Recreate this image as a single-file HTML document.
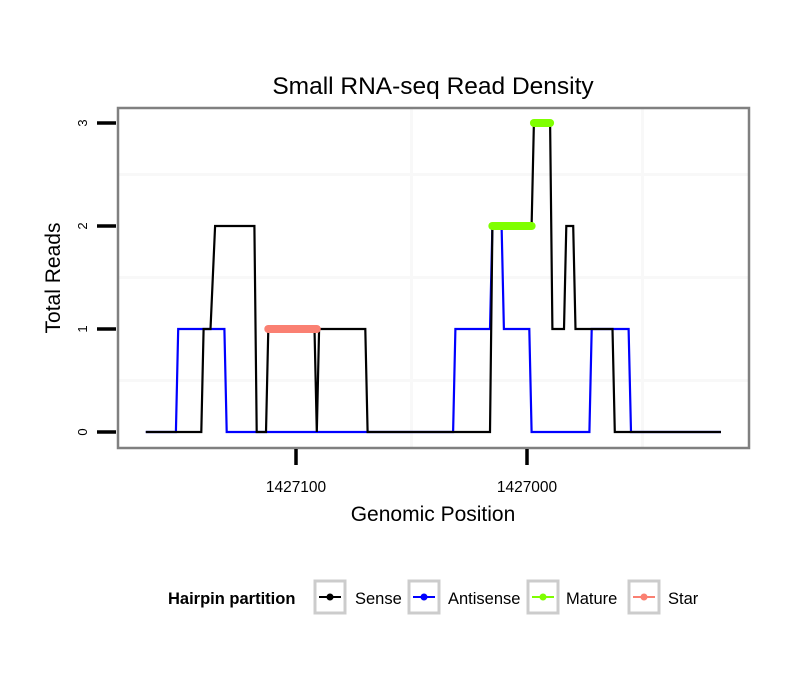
<!DOCTYPE html>
<html><head><meta charset="utf-8"><style>
body{margin:0;background:#fff;font-family:"Liberation Sans",sans-serif}
svg text{font-family:"Liberation Sans",sans-serif}
</style></head><body>
<svg width="810" height="690" viewBox="0 0 810 690">
<g id="plot"></g>
</svg>
<script>
const sensePos=[1427165,1427141,1427140,1427137,1427135,1427118,1427117,1427113,1427112,1427092,1427091,1427090,1427070,1427069,1427016,1427015,1426998,1426997,1426990,1426989,1426984,1426983,1426980,1426979,1426963,1426962,1426916];
const senseVal=[0,0,1,1,2,2,0,0,1,1,0,1,1,0,0,2,2,3,3,1,1,2,2,1,1,0,0];
const antiPos=[1427165,1427152,1427151,1427131,1427130,1427032,1427031,1427016,1427015,1427011,1427010,1426999,1426998,1426973,1426972,1426956,1426955,1426916];
const antiVal=[0,0,1,1,0,0,1,1,2,2,1,1,0,0,1,1,0,0];
const matureStart=[1427015,1426997];
const matureEnd=[1426998,1426990];
const matureVal=[2,3];
const starStart=[1427112];
const starEnd=[1427091];
const starVal=[1];
const xTicks=[1427100,1427000];
const xTickLabels=["1427100","1427000"];
const yTicks=[0,1,2,3];
const yTickLabels=["0","1","2","3"];
const xMinor=[1427050,1426950];
const yMinor=[0.5,1.5,2.5];

const NS="http://www.w3.org/2000/svg";
const g=document.getElementById('plot');
const X=p=>296+(1427100-p)*2.31;
const Y=v=>432-v*103;
function mk(t,a,parent){const e=document.createElementNS(NS,t);for(const k in a)e.setAttribute(k,a[k]);(parent||g).appendChild(e);return e;}

let el=mk('rect',{x:118,y:108,width:631,height:340,fill:'#fff'});


xMinor.forEach(p=>{const l=mk('line',{x1:X(p),x2:X(p),y1:109,y2:447,stroke:'#f8f8f8','stroke-width':3});

});
yMinor.forEach(v=>{const l=mk('line',{x1:119,x2:748,y1:Y(v),y2:Y(v),stroke:'#f8f8f8','stroke-width':3});

});

function series(pos,val,color,name){
 const d=pos.map((p,i)=>(i?'L':'M')+X(p).toFixed(1)+','+Y(val[i]).toFixed(1)).join('');
 const e=mk('path',{d:d,fill:'none',stroke:color,'stroke-width':2.2,'stroke-linejoin':'miter'});
 
 
}
series(antiPos,antiVal,'#0000ff','antisense-line');
series(sensePos,senseVal,'#000','sense-line');
function segs(s,e,v,color,name){
 s.forEach((p,i)=>{const l=mk('line',{x1:X(p),x2:X(e[i]),y1:Y(v[i]),y2:Y(v[i]),stroke:color,'stroke-width':8,'stroke-linecap':'round'});
 
 });
}
segs(matureStart,matureEnd,matureVal,'#7fff00','mature-segment');
segs(starStart,starEnd,starVal,'#fa8072','star-segment');

el=mk('rect',{x:118,y:108,width:631,height:340,fill:'none',stroke:'#808080','stroke-width':2.5});



yTicks.forEach((v,i)=>{
 const l=mk('line',{x1:97,x2:116,y1:Y(v),y2:Y(v),stroke:'#000','stroke-width':3.5});
 
 
 const t=mk('text',{x:0,y:0,'font-size':13,'text-anchor':'middle',transform:`translate(87,${Y(v)}) rotate(-90)`});
 t.textContent=yTickLabels[i];
 
 
});
xTicks.forEach((p,i)=>{
 const l=mk('line',{x1:X(p),x2:X(p),y1:449,y2:465,stroke:'#000','stroke-width':3.5});
 
 
 const t=mk('text',{x:X(p),y:492,'font-size':15.5,'text-anchor':'middle'});
 t.textContent=xTickLabels[i];
 
 
});
</script>
<svg width="810" height="690" style="position:absolute;left:0;top:0">
<text x="433" y="94" font-size="24.5" text-anchor="middle">Small RNA-seq Read Density</text>
<text x="433" y="521" font-size="21" text-anchor="middle">Genomic Position</text>
<text transform="translate(60,278) rotate(-90)" font-size="21" text-anchor="middle">Total Reads</text>
<g font-size="16.5">
<text x="168" y="604" font-weight="bold">Hairpin partition</text>
<g>
<rect x="315" y="581" width="30" height="32" fill="#fff" stroke="#ccc" stroke-width="3"/>
<line x1="319" x2="341" y1="597" y2="597" stroke="#000" stroke-width="2"/><circle cx="330" cy="597" r="3.5" fill="#000"/>
<text x="355" y="604">Sense</text></g>
<g>
<rect x="409" y="581" width="30" height="32" fill="#fff" stroke="#ccc" stroke-width="3"/>
<line x1="413" x2="435" y1="597" y2="597" stroke="#00f" stroke-width="2"/><circle cx="424" cy="597" r="3.5" fill="#00f"/>
<text x="448" y="604">Antisense</text></g>
<g>
<rect x="528" y="581" width="30" height="32" fill="#fff" stroke="#ccc" stroke-width="3"/>
<line x1="532" x2="554" y1="597" y2="597" stroke="#7fff00" stroke-width="2"/><circle cx="543" cy="597" r="3.5" fill="#7fff00"/>
<text x="566" y="604">Mature</text></g>
<g>
<rect x="629" y="581" width="30" height="32" fill="#fff" stroke="#ccc" stroke-width="3"/>
<line x1="633" x2="655" y1="597" y2="597" stroke="#fa8072" stroke-width="2"/><circle cx="644" cy="597" r="3.5" fill="#fa8072"/>
<text x="668" y="604">Star</text></g>
</g>
</svg>
</body></html>
